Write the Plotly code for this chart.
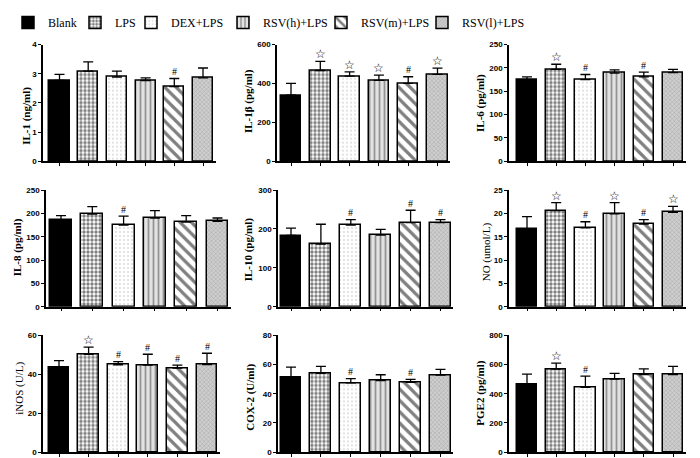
import plotly.graph_objects as go

groups = ["Blank", "LPS", "DEX+LPS", "RSV(h)+LPS", "RSV(m)+LPS", "RSV(l)+LPS"]

il1_mean = [2.77, 3.09, 2.89, 2.77, 2.56, 2.86]
il1_err = [0.21, 0.32, 0.20, 0.09, 0.28, 0.34]
il1_marks = ["", "", "", "", "#", ""]

il1b_mean = [340, 467, 438, 416, 401, 447]
il1b_err = [61, 47, 22, 27, 34, 32]
il1b_marks = ["", "☆", "☆", "☆", "#", "☆"]

il6_mean = [175, 197, 175, 189, 181, 190]
il6_err = [6, 11, 11, 7, 10, 7]
il6_marks = ["", "☆", "#", "", "#", ""]

il8_mean = [185, 198.6, 175, 190, 181, 183]
il8_err = [10, 16, 19, 16, 14, 7]
il8_marks = ["", "", "#", "", "", ""]

il10_mean = [183, 161, 210, 184, 216, 216]
il10_err = [19, 51, 14, 15, 32, 8]
il10_marks = ["", "", "#", "", "#", "#"]

no_mean = [16.7, 20.6, 16.9, 19.9, 17.7, 20.2]
no_err = [2.6, 1.7, 1.3, 2.4, 0.95, 1.3]
no_marks = ["", "☆", "#", "☆", "#", "☆"]

inos_mean = [43.5, 50.3, 44.9, 44.7, 43.2, 45.0]
inos_err = [3.5, 3.7, 1.6, 5.6, 1.5, 5.8]
inos_marks = ["", "☆", "#", "#", "#", "#"]

cox2_mean = [51.0, 54.0, 47.4, 49.0, 47.8, 52.8]
cox2_err = [7.3, 4.7, 2.9, 4.0, 2.1, 3.9]
cox2_marks = ["", "", "#", "", "#", ""]

pge2_mean = [465, 569, 444, 501, 531, 531]
pge2_err = [70, 41, 77, 39, 40, 56]
pge2_marks = ["", "☆", "#", "", "", ""]

y_titles = ["IL-1 (ng/ml)", "IL-1β (pg/ml)", "IL-6 (pg/ml)",
            "IL-8 (pg/ml)", "IL-10 (pg/ml)", "NO (umol/L)",
            "iNOS (U/L)", "COX-2 (U/ml)", "PGE2 (pg/ml)"]
title_bold = [True, True, True, True, True, False, False, True, True]
y_max = [4, 600, 250, 250, 300, 25, 60, 80, 800]
y_dtick = [1, 200, 50, 50, 100, 5, 20, 20, 200]

panels = [
    (il1_mean, il1_err, il1_marks), (il1b_mean, il1b_err, il1b_marks), (il6_mean, il6_err, il6_marks),
    (il8_mean, il8_err, il8_marks), (il10_mean, il10_err, il10_marks), (no_mean, no_err, no_marks),
    (inos_mean, inos_err, inos_marks), (cox2_mean, cox2_err, cox2_marks), (pge2_mean, pge2_err, pge2_marks),
]

# The page body adds an 8px margin, so lay out in page pixels and shift.
OFF = 8
W, H = 700 - OFF, 458 - OFF
# pixel layout per panel (page px): axis x, first bar center, last bar center, axis end
xlay = [(43, 59.5, 203, 216), (277, 291, 437.5, 450), (509, 527, 673, 686),
        (46, 61, 217.5, 231), (278, 291, 440.5, 453), (509, 527, 673, 686),
        (43, 59, 207, 220), (278, 291, 440.5, 453), (509, 527, 673, 686)]
ylay = [(40, 158), (187, 305), (334, 452)]
# axis title centers (page px)
title_pos = [(27, 112), (248, 97), (481, 99),
             (17, 245), (248, 247), (486, 250),
             (20, 388), (251, 396), (481, 392)]
legend_x_px = [4, 75, 131, 223, 321, 422]

styles = [
    dict(color="black", pattern=dict(shape="")),
    dict(color="white", pattern=dict(shape=".", fgcolor="black", bgcolor="white", size=4, solidity=0.55, fillmode="overlay")),
    dict(color="white", pattern=dict(shape=".", fgcolor="#777", bgcolor="white", size=4, solidity=0.12, fillmode="overlay")),
    dict(color="#e2e2e2", pattern=dict(shape="|", fgcolor="#444", bgcolor="#e2e2e2", size=5, solidity=0.35, fillmode="overlay")),
    dict(color="white", pattern=dict(shape="\\", fgcolor="black", bgcolor="white", size=8, solidity=0.4, fillmode="overlay")),
    dict(color="#cfcfcf", pattern=dict(shape="x", fgcolor="#777", bgcolor="#cfcfcf", size=3, solidity=0.3, fillmode="overlay")),
]

fig = go.Figure()
annotations = []
layout = {}
for p, (means, errs, marks) in enumerate(panels):
    ax = "" if p == 0 else str(p + 1)
    for g in range(6):
        st = styles[g]
        fig.add_trace(go.Bar(
            x=[g], y=[means[g]], name=groups[g], legendgroup=groups[g],
            legend="legend" if g == 0 else "legend" + str(g + 1),
            showlegend=(p == 0), width=0.7,
            marker=dict(color=st["color"], pattern=st["pattern"], line=dict(color="black", width=1.5)),
            error_y=dict(type="data", symmetric=False, array=[errs[g]], arrayminus=[0],
                         color="black", thickness=1.3, width=5),
            xaxis="x" + ax, yaxis="y" + ax,
        ))
        if marks[g]:
            star = marks[g] == "☆"
            annotations.append(dict(
                x=g, y=means[g] + errs[g], xref="x" + ax, yref="y" + ax,
                text=marks[g], showarrow=False, yshift=7,
                font=dict(family="DejaVu Sans" if star else "Liberation Serif",
                          size=12 if star else 10, color="black", weight="bold" if star else "normal"),
            ))
    a, c0, c5, e = [v - OFF for v in xlay[p]]
    s = (c5 - c0) / 5
    row = p // 3
    top, bot = [v - OFF for v in ylay[row]]
    layout["xaxis" + ax] = dict(
        domain=[a / W, e / W], range=[-(c0 - a) / s, 5 + (e - c5) / s],
        showline=True, linecolor="black", linewidth=1.5, ticks="outside", ticklen=3,
        tickwidth=1, tickcolor="black", tickvals=list(range(6)), showticklabels=False,
        showgrid=False, zeroline=False, anchor="y" + ax, fixedrange=True, automargin=False,
    )
    layout["yaxis" + ax] = dict(
        domain=[1 - bot / H, 1 - top / H], range=[0, y_max[p]], dtick=y_dtick[p],
        showline=True, linecolor="black", linewidth=1.5, ticks="outside", ticklen=3,
        tickwidth=1, tickcolor="black", showgrid=False, zeroline=False,
        tickfont=dict(family="Liberation Sans", size=8, color="black", weight="bold"),
        anchor="x" + ax, fixedrange=True, automargin=False,
    )
    tx, ty = title_pos[p]
    annotations.append(dict(
        x=(tx - OFF) / W, y=1 - (ty - OFF) / H, xref="paper", yref="paper",
        text=y_titles[p], textangle=-90, showarrow=False, xanchor="center", yanchor="middle",
        font=dict(family="Liberation Serif", size=11, color="black",
                  weight="bold" if title_bold[p] else "normal"),
    ))

for g in range(6):
    key = "legend" if g == 0 else "legend" + str(g + 1)
    layout[key] = dict(
        orientation="h", x=(legend_x_px[g] - OFF) / W if legend_x_px[g] > OFF else 0,
        y=1 + 5 / H, xanchor="left", yanchor="top",
        font=dict(family="Liberation Serif", size=12, color="black"),
        itemclick=False, itemdoubleclick=False, bgcolor="rgba(0,0,0,0)",
    )

fig.update_layout(
    template="none",
    width=W, height=H, margin=dict(l=0, r=0, t=0, b=0),
    paper_bgcolor="white", plot_bgcolor="white",
    barmode="overlay", bargap=0,
    showlegend=True,
    annotations=annotations,
    **layout,
)
fig.write_html("out.html")
